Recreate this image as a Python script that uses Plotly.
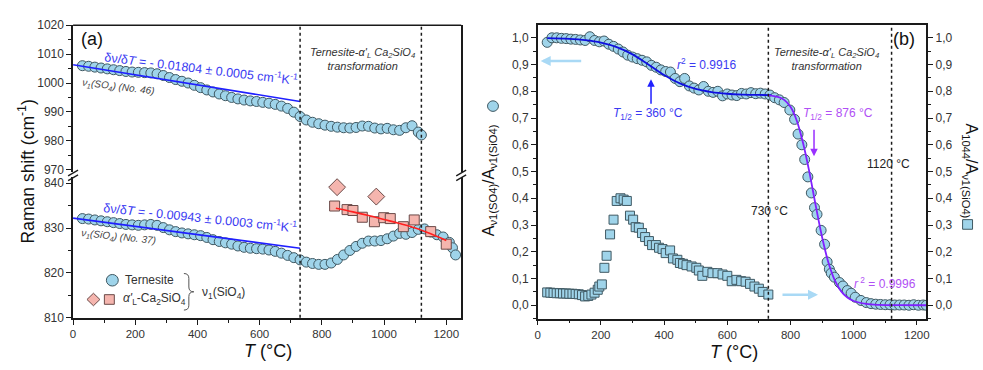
import plotly.graph_objects as go

W, H = 983, 370

# ---------------- data ----------------
# Panel (a) upper: nu1(SO4) of ternesite (No. 46)
T_a_so4 = [30, 50, 70, 90, 110, 130, 150, 170, 190, 210, 230, 250, 270, 290, 310, 330, 350, 370,
           390, 410, 430, 450, 470, 490, 510, 530, 550, 570, 590, 610, 630, 650, 670, 690, 710,
           730, 750, 770, 790, 810, 830, 850, 870, 890, 910, 930, 950, 970, 990, 1010, 1030,
           1050, 1070, 1090, 1110, 1120]
shift_so4 = [1006.0, 1005.8, 1005.5, 1005.2, 1004.9, 1004.6, 1004.3, 1004.0, 1003.8, 1003.7,
             1003.6, 1003.5, 1003.2, 1002.6, 1001.9, 1001.2, 1000.6, 1000.0, 999.2, 998.4,
             997.6, 996.9, 996.2, 995.6, 995.0, 994.5, 994.1, 993.8, 993.6, 993.3, 993.0,
             992.6, 992.0, 991.2, 989.9, 988.4, 987.2, 986.4, 985.9, 985.4, 985.0, 984.7,
             984.5, 984.4, 984.6, 985.1, 985.0, 984.4, 984.1, 984.3, 983.8, 983.6, 984.5,
             985.2, 983.0, 982.0]

# Panel (a) lower: nu1(SiO4) of ternesite (No. 37)
T_a_sio4 = [30, 50, 70, 90, 110, 130, 150, 170, 190, 210, 230, 250, 270, 290, 310, 330, 350, 370,
            390, 410, 430, 450, 470, 490, 510, 530, 550, 570, 590, 610, 630, 650, 670, 690, 710,
            730, 750, 770, 790, 810, 830, 850, 870, 890, 910, 930, 950, 970, 990, 1010, 1030,
            1050, 1070, 1090, 1110, 1130, 1150, 1170, 1190, 1210, 1220, 1230]
shift_sio4 = [832.1, 832.0, 831.8, 831.6, 831.4, 831.2, 831.0, 830.8, 830.7, 830.6, 830.7, 830.8,
              830.6, 830.1, 829.6, 829.2, 828.9, 828.7, 828.5, 828.3, 827.9, 827.4, 827.0,
              826.7, 826.4, 826.0, 825.7, 825.5, 825.4, 825.3, 825.1, 824.8, 824.4, 823.9,
              823.4, 822.9, 822.4, 822.1, 821.9, 821.9, 822.2, 823.0, 824.0, 825.0, 825.9,
              826.6, 827.1, 827.1, 827.2, 827.6, 828.2, 828.8, 828.6, 829.0, 829.7, 829.8,
              829.1, 828.5, 828.0, 826.8, 825.6, 824.0]

# alpha'L-Ca2SiO4
T_alpha_sq = [841, 881, 900, 930, 969, 999, 1020, 1062, 1097, 1150, 1200]
shift_alpha_sq = [834.9, 834.1, 833.9, 832.4, 831.4, 832.3, 832.1, 830.3, 831.8, 829.2, 826.4]
T_alpha_di = [849, 975]
shift_alpha_di = [839.1, 837.0]

# linear fits
fit_so4_T = [0, 730]
fit_so4 = [1006.3, 993.6]
fit_sio4_T = [0, 730]
fit_sio4 = [832.2, 825.5]
fit_alpha_T = [845, 900, 950, 1000, 1050, 1100, 1150, 1200]
fit_alpha = [834.4, 833.6, 832.8, 831.9, 831.0, 830.0, 828.7, 827.2]

# Panel (b): A_nu1(SO4)/A_nu1(SiO4)
T_b = [30, 45, 60, 75, 90, 105, 120, 135, 150, 165, 180, 195, 210, 225, 240, 255, 270, 285, 300,
       315, 330, 345, 360, 375, 390, 405, 420, 435, 450, 465, 480, 495, 510, 525, 540, 555, 570,
       585, 600, 615, 630, 645, 660, 675, 690, 705, 720, 735, 750, 765, 780, 798, 813, 824, 836,
       845, 855, 866, 876, 884, 897, 908, 916, 923, 929, 939, 955, 966, 980, 992, 1005, 1023,
       1040, 1055, 1070, 1085, 1100, 1115, 1130, 1145, 1160, 1175, 1190, 1205, 1220, 1230]
ratio_so4 = [0.983, 1.000, 1.000, 0.998, 0.997, 0.995, 0.994, 0.992, 0.990, 1.004, 0.990, 0.985,
             0.988, 0.976, 0.968, 0.958, 0.947, 0.935, 0.928, 0.922, 0.916, 0.910, 0.897, 0.890,
             0.880, 0.874, 0.872, 0.848, 0.836, 0.848, 0.820, 0.812, 0.805, 0.818, 0.800, 0.796,
             0.800, 0.783, 0.790, 0.786, 0.784, 0.792, 0.790, 0.795, 0.791, 0.793, 0.790, 0.786,
             0.776, 0.768, 0.758, 0.730, 0.695, 0.640, 0.600, 0.545, 0.480, 0.420, 0.365, 0.340,
             0.280, 0.228, 0.162, 0.135, 0.120, 0.105, 0.085, 0.072, 0.055, 0.045, 0.030, 0.018,
             0.010, 0.006, 0.004, 0.003, 0.002, 0.002, 0.001, 0.001, 0.001, 0.000, 0.002, 0.000,
             0.001, 0.000]

# Panel (b): A_1044/A_nu1(SiO4)
T_b2 = [30, 40, 50, 60, 70, 80, 90, 100, 110, 120, 130, 140, 150, 160, 170, 180, 190, 195, 203,
        211, 218, 229, 240, 250, 262, 272, 282, 292, 302, 310, 320, 330, 340, 352, 362, 374, 384,
        395, 405, 419, 428, 442, 450, 460, 471, 487, 502, 510, 521, 537, 553, 569, 585, 600, 614,
        629, 644, 658, 672, 686, 700, 712, 730]
ratio_1044 = [0.048, 0.047, 0.046, 0.045, 0.045, 0.044, 0.044, 0.043, 0.043, 0.042, 0.041, 0.038,
              0.033, 0.035, 0.040, 0.047, 0.058, 0.070, 0.078, 0.140, 0.185, 0.265, 0.320, 0.390,
              0.400, 0.395, 0.390, 0.335, 0.320, 0.292, 0.290, 0.270, 0.255, 0.240, 0.225, 0.225,
              0.215, 0.210, 0.195, 0.205, 0.175, 0.170, 0.158, 0.155, 0.150, 0.145, 0.140, 0.130,
              0.110, 0.125, 0.120, 0.120, 0.115, 0.110, 0.090, 0.095, 0.090, 0.088, 0.080, 0.070,
              0.062, 0.050, 0.040]

# sigmoidal fits
sig1_T = [30, 100, 150, 200, 250, 300, 350, 400, 450, 500, 550, 600, 650, 700, 740]
sig1 = [0.9985, 0.9957, 0.991, 0.982, 0.965, 0.938, 0.9005, 0.861, 0.8295, 0.8087, 0.797,
        0.7908, 0.7878, 0.7863, 0.7858]
sig2_T = [730, 760, 780, 800, 820, 840, 860, 880, 900, 920, 940, 960, 980, 1000, 1040, 1080,
          1150, 1230]
sig2 = [0.785, 0.779, 0.768, 0.742, 0.690, 0.606, 0.497, 0.372, 0.255, 0.160, 0.094, 0.053,
        0.029, 0.016, 0.005, 0.0013, 0.0002, 0.0]

x_ticks = [0, 200, 400, 600, 800, 1000, 1200]
b_ticks = [0.0, 0.1, 0.2, 0.3, 0.4, 0.5, 0.6, 0.7, 0.8, 0.9, 1.0]
b_ticktext = ["0,0", "0,1", "0,2", "0,3", "0,4", "0,5", "0,6", "0,7", "0,8", "0,9", "1,0"]

# ---------------- styling ----------------
FONT = "Liberation Sans, Arial, sans-serif"
CIRC_FILL = "#9fd4ea"
CIRC_EDGE = "#3f5862"
PINK_FILL = "#f5b5ae"
PINK_EDGE = "#6a4a48"
BLUE = "#1f1fff"
BLUE_TXT = "#3a3af2"
PURPLE = "#8020ff"
PURPLE_TXT = "#b050f5"
LIGHTBLUE = "#a9d9f5"
GREY = "#333333"


def px(x):
    return x / W


def py(y):
    return 1 - y / H


def P(x, y):
    return f"{x / W:.5f},{1 - y / H:.5f}"


fig = go.Figure()

circ = dict(symbol="circle", size=10, color=CIRC_FILL, line=dict(color=CIRC_EDGE, width=1))

# panel (a) upper
fig.add_trace(go.Scatter(x=T_a_so4, y=shift_so4, mode="markers", marker=circ,
                         xaxis="x", yaxis="y", showlegend=False))
fig.add_trace(go.Scatter(x=fit_so4_T, y=fit_so4, mode="lines", line=dict(color=BLUE, width=1.6),
                         xaxis="x", yaxis="y", showlegend=False))
# panel (a) lower
fig.add_trace(go.Scatter(x=T_a_sio4, y=shift_sio4, mode="markers", marker=circ,
                         xaxis="x", yaxis="y2", showlegend=False))
fig.add_trace(go.Scatter(x=fit_sio4_T, y=fit_sio4, mode="lines", line=dict(color=BLUE, width=1.6),
                         xaxis="x", yaxis="y2", showlegend=False))
fig.add_trace(go.Scatter(x=T_alpha_sq, y=shift_alpha_sq, mode="markers",
                         marker=dict(symbol="square", size=10, color=PINK_FILL,
                                     line=dict(color=PINK_EDGE, width=1)),
                         xaxis="x", yaxis="y2", showlegend=False))
fig.add_trace(go.Scatter(x=T_alpha_di, y=shift_alpha_di, mode="markers",
                         marker=dict(symbol="diamond", size=13, color=PINK_FILL,
                                     line=dict(color=PINK_EDGE, width=1)),
                         xaxis="x", yaxis="y2", showlegend=False))
fig.add_trace(go.Scatter(x=fit_alpha_T, y=fit_alpha, mode="lines", line_shape="spline",
                         line=dict(color="#ff2020", width=1.6),
                         xaxis="x", yaxis="y2", showlegend=False))

# panel (b)
fig.add_trace(go.Scatter(x=T_b2, y=ratio_1044, mode="markers",
                         marker=dict(symbol="square", size=9, color=CIRC_FILL,
                                     line=dict(color=CIRC_EDGE, width=1)),
                         xaxis="x3", yaxis="y4", showlegend=False))
fig.add_trace(go.Scatter(x=T_b, y=ratio_so4, mode="markers", marker=circ,
                         xaxis="x3", yaxis="y3", showlegend=False))
fig.add_trace(go.Scatter(x=sig1_T, y=sig1, mode="lines", line_shape="spline",
                         line=dict(color="#1010e0", width=1.8),
                         xaxis="x3", yaxis="y3", showlegend=False))
fig.add_trace(go.Scatter(x=sig2_T, y=sig2, mode="lines", line_shape="spline",
                         line=dict(color=PURPLE, width=1.8),
                         xaxis="x3", yaxis="y3", showlegend=False))

axcommon = dict(showline=True, linecolor="#1a1a1a", linewidth=1.5, ticks="outside", ticklen=5,
                tickwidth=1.2, tickcolor="#1a1a1a", showgrid=False, zeroline=False,
                tickfont=dict(family=FONT, size=12, color=GREY))

fig.update_layout(
    width=W, height=H, margin=dict(l=0, r=0, t=0, b=0), autosize=False,
    paper_bgcolor="white", plot_bgcolor="white", font=dict(family=FONT, color=GREY),
    xaxis=dict(domain=[px(70.5), px(461)], range=[0, 1248], anchor="y2", tickmode="array",
               tickvals=x_ticks, minor=dict(tickmode="linear", tick0=0, dtick=100, ticklen=3,
                                            ticks="outside", tickcolor="#1a1a1a"),
               **{**axcommon, "tickfont": dict(family=FONT, size=11.5, color=GREY)}),
    yaxis=dict(domain=[py(172), py(19)], range=[969, 1020], anchor="x", mirror=True,
               tickmode="linear", tick0=970, dtick=10,
               minor=dict(tickmode="linear", tick0=0, dtick=5, ticklen=3, ticks="outside",
                          tickcolor="#1a1a1a"), **axcommon),
    yaxis2=dict(domain=[py(323), py(177)], range=[810, 841.3], anchor="x", mirror=True,
                tickmode="linear", tick0=810, dtick=10,
                minor=dict(tickmode="linear", tick0=0, dtick=5, ticklen=3, ticks="outside",
                           tickcolor="#1a1a1a"), **axcommon),
    xaxis3=dict(domain=[px(538), px(929)], range=[0, 1230], anchor="y3", mirror=True,
                tickmode="array", tickvals=x_ticks,
                minor=dict(tickmode="linear", tick0=0, dtick=100, ticklen=3, ticks="outside",
                           tickcolor="#1a1a1a"),
                **{**axcommon, "tickfont": dict(family=FONT, size=11.5, color=GREY)}),
    yaxis3=dict(domain=[py(324), py(19)], range=[-0.0504, 1.0468], anchor="x3", side="left",
                tickmode="array", tickvals=b_ticks, ticktext=b_ticktext,
                minor=dict(tickmode="linear", tick0=0, dtick=0.05, ticklen=3, ticks="outside",
                           tickcolor="#1a1a1a"), **axcommon),
    yaxis4=dict(range=[-0.0504, 1.0468], anchor="x3", overlaying="y3", side="right",
                tickmode="array", tickvals=b_ticks, ticktext=b_ticktext,
                minor=dict(tickmode="linear", tick0=0, dtick=0.05, ticklen=3, ticks="outside",
                           tickcolor="#1a1a1a"), **axcommon),
)

shapes = []
# top frame line of panel (a)
shapes.append(dict(type="line", xref="paper", yref="paper", x0=px(70.5), x1=px(461),
                   y0=py(19), y1=py(19), line=dict(color="#1a1a1a", width=1.5)))
# break marks
for bx in (70.5, 461):
    for by in (172.5, 177.5):
        shapes.append(dict(type="line", xref="paper", yref="paper", x0=px(bx - 5), x1=px(bx + 5),
                           y0=py(by + 3), y1=py(by - 3), line=dict(color="#1a1a1a", width=1.3)))
# dotted verticals
for T in (730, 1120):
    shapes.append(dict(type="line", xref="x", yref="paper", x0=T, x1=T, y0=py(323), y1=py(19),
                       line=dict(color="#1a1a1a", width=1.5, dash="dot")))
    shapes.append(dict(type="line", xref="x3", yref="paper", x0=T, x1=T, y0=py(324), y1=py(19),
                       line=dict(color="#1a1a1a", width=1.5, dash="dot")))
# legend symbols (a)
shapes.append(dict(type="circle", xref="paper", yref="paper", x0=px(104), x1=px(116),
                   y0=py(290), y1=py(278), fillcolor=CIRC_FILL, line=dict(color=CIRC_EDGE, width=1)))
shapes.append(dict(type="path", xref="paper", yref="paper",
                   path=f"M {P(91, 297.5)} L {P(97.5, 304)} L {P(91, 310.5)} L {P(84.5, 304)} Z",
                   fillcolor=PINK_FILL, line=dict(color=PINK_EDGE, width=1)))
shapes.append(dict(type="rect", xref="paper", yref="paper", x0=px(102), x1=px(112),
                   y0=py(309), y1=py(299), fillcolor=PINK_FILL, line=dict(color=PINK_EDGE, width=1)))
# brace
shapes.append(dict(type="path", xref="paper", yref="paper",
                   path=(f"M {P(182, 277)} Q {P(187, 277)} {P(187, 282)} L {P(187, 291)} "
                         f"Q {P(187, 296)} {P(192, 296)} Q {P(187, 296)} {P(187, 301)} "
                         f"L {P(187, 310)} Q {P(187, 315)} {P(182, 315)}"),
                   line=dict(color="#555555", width=1)))
# axis title symbols (b)
shapes.append(dict(type="circle", xref="paper", yref="paper", x0=px(487.5), x1=px(498.5),
                   y0=py(108.5), y1=py(97.5), fillcolor=CIRC_FILL, line=dict(color=CIRC_EDGE, width=1)))
shapes.append(dict(type="rect", xref="paper", yref="paper", x0=px(965.5), x1=px(975.5),
                   y0=py(231), y1=py(221), fillcolor=CIRC_FILL, line=dict(color=CIRC_EDGE, width=1)))
fig.update_layout(shapes=shapes)

ann = []


def txt(x, y, text, size=12, color=GREY, angle=0, style="normal", xanchor="center"):
    ann.append(dict(xref="paper", yref="paper", x=px(x), y=py(y), text=text, showarrow=False,
                    xanchor=xanchor, yanchor="middle", textangle=angle,
                    font=dict(family=FONT, size=size, color=color, style=style)))


def arrow(x, y, ax, ay, color, width, size=1.0):
    ann.append(dict(xref="paper", yref="paper", x=px(x), y=py(y), ax=ax, ay=ay, text="",
                    showarrow=True, arrowhead=2, arrowsize=size, arrowwidth=width,
                    arrowcolor=color))


# panel (a)
txt(90, 33, "(a)", size=18, color="#111111")
txt(200, 63, "δν/δ<i>T</i> = - 0.01804 ± 0.0005 cm<sup>-1</sup>K<sup>-1</sup>", size=12.5,
    color=BLUE_TXT, angle=7)
txt(116, 83, "ν<sub>1</sub>(SO<sub>4</sub>) (No. 46)", size=10, color="#444444", angle=7,
    style="italic")
txt(199, 218, "δν/δ<i>T</i> = - 0.00943 ± 0.0003 cm<sup>-1</sup>K<sup>-1</sup>", size=12.5,
    color=BLUE_TXT, angle=6)
txt(116, 239, "ν<sub>1</sub>(SiO<sub>4</sub>) (No. 37)", size=10, color="#444444", angle=6,
    style="italic")
txt(362, 54, "Ternesite-α'<sub>L</sub> Ca<sub>2</sub>SiO<sub>4</sub><br>transformation", size=11,
    color=GREY, style="italic")
txt(121, 284, "Ternesite", size=12, xanchor="left")
txt(119, 304, "<i>α'</i><sub>L</sub>-Ca<sub>2</sub>SiO<sub>4</sub>", size=12, xanchor="left")
txt(198, 297, "ν<sub>1</sub>(SiO<sub>4</sub>)", size=12, xanchor="left")
txt(23, 171, "Raman shift (cm<sup>-1</sup>)", size=17.5, color="#111111", angle=-90)
txt(267, 358, "<i>T</i> (°C)", size=18, color="#111111")

# panel (b)
txt(907, 33, "(b)", size=18, color="#111111")
txt(829, 54, "Ternesite-α'<sub>L</sub> Ca<sub>2</sub>SiO<sub>4</sub><br>transformation", size=11,
    color=GREY, style="italic")
txt(708, 59, "<i>r</i><sup>2</sup> = 0.9916", size=12, color=BLUE_TXT)
txt(649, 111, "<i>T</i><sub>1/2</sub> = 360 °C", size=12, color=BLUE_TXT)
txt(840, 111, "<i>T</i><sub>1/2</sub> = 876 °C", size=12, color=PURPLE_TXT)
txt(891, 163, "1120 °C", size=12, color="#222222")
txt(771, 212, "730 °C", size=12, color="#222222")
txt(887, 287, "<i>r</i><sup> 2</sup> = 0.9996", size=12, color=PURPLE_TXT)
txt(489, 180, "A<sub>ν1(SO4)</sub>/A<sub>ν1(SiO4)</sub>", size=16, color="#111111", angle=-90)
txt(973, 170, "A<sub>1044</sub>/A<sub>ν1(SiO4)</sub>", size=16, color="#111111", angle=90)
txt(735, 359, "<i>T</i> (°C)", size=18, color="#111111")

arrow(652, 75, 0, 26, "#2020ff", 1.5, 1.0)
arrow(816, 155, 0, -28, "#9a30ff", 1.5, 1.0)
arrow(541, 56, 42, 0, LIGHTBLUE, 2.5, 0.8)
arrow(820, 299, -37, 0, LIGHTBLUE, 2.5, 0.8)

fig.update_layout(annotations=ann)

fig.write_html("out.html")
